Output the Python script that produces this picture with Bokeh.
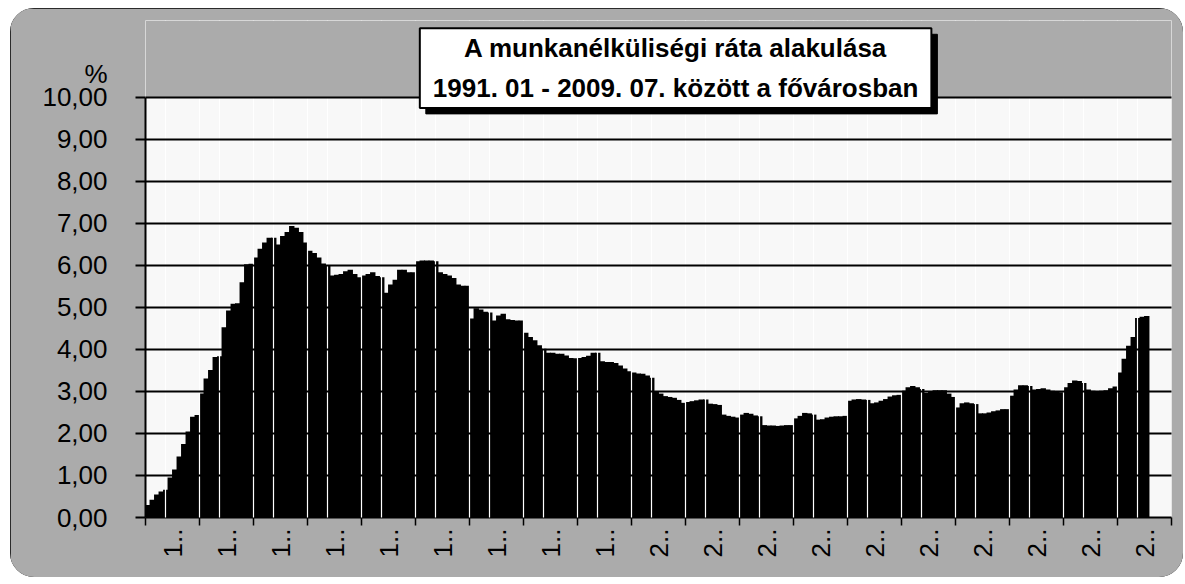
import math
from bokeh.plotting import figure
from bokeh.models import Range1d, FixedTicker, Label, Grid, BoxAnnotation
from bokeh.embed import file_html
from bokeh.resources import INLINE

# ---------------- data ----------------
years = [str(y) for y in range(1991, 2010)]
xtick_labels = ["1.."] * 9 + ["2.."] * 10
ytick_values = [0, 1, 2, 3, 4, 5, 6, 7, 8, 9, 10]
ytick_labels = ["0,00", "1,00", "2,00", "3,00", "4,00", "5,00",
                "6,00", "7,00", "8,00", "9,00", "10,00"]

rate_1991 = [0.30, 0.42, 0.55, 0.62, 0.66, 0.95, 1.14, 1.45, 1.75, 2.05, 2.40, 2.44]
rate_1992 = [2.95, 3.31, 3.51, 3.82, 3.84, 4.53, 4.93, 5.09, 5.10, 5.60, 6.03, 6.04]
rate_1993 = [6.19, 6.40, 6.55, 6.66, 6.66, 6.50, 6.70, 6.80, 6.94, 6.90, 6.80, 6.55]
rate_1994 = [6.35, 6.30, 6.19, 6.05, 6.00, 5.76, 5.78, 5.80, 5.86, 5.90, 5.80, 5.72]
rate_1995 = [5.76, 5.80, 5.84, 5.75, 5.72, 5.35, 5.55, 5.66, 5.90, 5.90, 5.84, 5.84]
rate_1996 = [6.10, 6.12, 6.12, 6.12, 6.10, 5.84, 5.80, 5.76, 5.70, 5.55, 5.52, 5.52]
rate_1997 = [4.74, 4.98, 4.95, 4.90, 4.88, 4.69, 4.81, 4.85, 4.72, 4.70, 4.69, 4.69]
rate_1998 = [4.40, 4.30, 4.22, 4.10, 4.02, 3.92, 3.92, 3.90, 3.90, 3.86, 3.80, 3.79]
rate_1999 = [3.80, 3.82, 3.85, 3.92, 3.92, 3.72, 3.70, 3.70, 3.68, 3.62, 3.55, 3.48]
rate_2000 = [3.45, 3.43, 3.42, 3.38, 3.33, 3.01, 2.95, 2.89, 2.87, 2.85, 2.80, 2.73]
rate_2001 = [2.75, 2.77, 2.79, 2.81, 2.81, 2.71, 2.70, 2.68, 2.45, 2.42, 2.40, 2.38]
rate_2002 = [2.45, 2.49, 2.47, 2.43, 2.41, 2.20, 2.19, 2.19, 2.18, 2.19, 2.20, 2.20]
rate_2003 = [2.36, 2.42, 2.49, 2.48, 2.45, 2.33, 2.34, 2.38, 2.40, 2.41, 2.41, 2.42]
rate_2004 = [2.78, 2.81, 2.82, 2.81, 2.80, 2.72, 2.74, 2.78, 2.82, 2.88, 2.91, 2.92]
rate_2005 = [3.02, 3.10, 3.13, 3.10, 3.06, 2.97, 3.00, 3.03, 3.03, 3.03, 2.95, 2.87]
rate_2006 = [2.62, 2.72, 2.74, 2.72, 2.70, 2.48, 2.48, 2.50, 2.53, 2.55, 2.58, 2.58]
rate_2007 = [2.90, 3.05, 3.15, 3.15, 3.13, 3.05, 3.06, 3.08, 3.05, 3.02, 3.00, 2.98]
rate_2008 = [3.10, 3.20, 3.26, 3.25, 3.20, 3.05, 3.02, 3.00, 3.02, 3.03, 3.08, 3.12]
rate_2009 = [3.45, 3.78, 4.09, 4.30, 4.75, 4.78, 4.80]

title_line1 = "A munkanélküliségi ráta alakulása"
title_line2 = "1991. 01 - 2009. 07. között a fővárosban"
unit_label = "%"

rate = (rate_1991 + rate_1992 + rate_1993 + rate_1994 + rate_1995 + rate_1996 +
        rate_1997 + rate_1998 + rate_1999 + rate_2000 + rate_2001 + rate_2002 +
        rate_2003 + rate_2004 + rate_2005 + rate_2006 + rate_2007 + rate_2008 +
        rate_2009)
months_per_year = 12
n_slots = months_per_year * len(years)          # axis runs through 2009 december
month_x = [i + 0.5 for i in range(len(rate))]

# ---------------- figure ----------------
FONT = "Liberation Sans"
GRAY = "#ababab"
Y_MAX = 10
Y_TOP = 11.833      # frame extends above the value axis to hold the title box

p = figure(width=1173, height=569, output_backend="svg", toolbar_location=None,
           x_range=Range1d(0, n_slots), y_range=Range1d(0, Y_TOP),
           min_border_left=135, min_border_right=12, min_border_top=12,
           min_border_bottom=60,
           background_fill_color="#f8f8f8", border_fill_color=GRAY,
           outline_line_color=None)
p.styles = {"border-radius": "24px", "overflow": "hidden",
            "outline": "2px solid black", "outline-offset": "-2px",
            "margin-left": "10px", "margin-top": "8px"}

p.vbar(x=month_x, top=rate, bottom=0, width=1.2, fill_color="black",
       line_color=None)

p.xgrid.visible = False
p.ygrid.visible = False

# y axis: tick marks drawn as minor ticks so the "%" label gets no tick mark
unit_pos = 10.57
y_overrides = {v: s for v, s in zip(ytick_values, ytick_labels)}
y_overrides[unit_pos] = unit_label
yax = p.yaxis[0]
yax.ticker = FixedTicker(ticks=ytick_values + [unit_pos], minor_ticks=ytick_values)
yax.major_label_overrides = y_overrides
yax.bounds = (0, Y_MAX)
yax.major_tick_out = 0
yax.major_tick_in = 0
yax.minor_tick_out = 10
yax.minor_tick_in = 0
yax.minor_tick_line_width = 2
yax.minor_tick_line_color = "black"
yax.axis_line_width = 2
yax.axis_line_color = "black"
yax.major_label_text_font = FONT
yax.major_label_text_font_size = "26px"
yax.major_label_text_color = "black"
yax.major_label_standoff = 28

xax = p.xaxis[0]
label_pos = [months_per_year * k + months_per_year / 2 for k in range(len(years))]
year_edges = [months_per_year * k for k in range(len(years) + 1)]
xax.ticker = FixedTicker(ticks=label_pos, minor_ticks=year_edges)
xax.major_label_overrides = {v: s for v, s in zip(label_pos, xtick_labels)}
xax.major_tick_out = 0
xax.major_tick_in = 0
xax.minor_tick_out = 8
xax.minor_tick_in = 0
xax.minor_tick_line_width = 1.5
xax.minor_tick_line_color = "black"
xax.axis_line_width = 2
xax.axis_line_color = "black"
xax.major_label_orientation = math.pi / 2
xax.major_label_text_font = FONT
xax.major_label_text_font_size = "26px"
xax.major_label_text_color = "black"
xax.major_label_standoff = 3

# white seams between the bar groups (as in the scanned original)
seams = sorted(year_edges[1:-1] + [e + 4.5 for e in year_edges[:-1]])
p.add_layout(Grid(dimension=0, ticker=FixedTicker(ticks=seams),
                  grid_line_color="white", grid_line_width=1.2, level="guide"))

# gray chart-area band above the value range
p.add_layout(BoxAnnotation(bottom=Y_MAX, fill_color=GRAY, fill_alpha=1.0,
                           line_color=None, level="annotation"))

# horizontal black gridlines
p.add_layout(Grid(dimension=1, ticker=FixedTicker(ticks=ytick_values[1:]),
                  grid_line_color="black", grid_line_width=1.8,
                  level="annotation"))

# title box with drop shadow
title_text = title_line1 + "\n" + title_line2
common = dict(x=117.8, y=10.70, text=title_text, text_align="center",
              text_baseline="middle", text_font=FONT,
              text_font_style="bold", text_font_size="26px",
              text_line_height=1.32,
              padding=dict(left=13, right=13, top=5, bottom=5),
              level="overlay")
p.add_layout(Label(x_offset=6, y_offset=-6, text_color="black",
                   background_fill_color="black", border_line_color="black",
                   **common))
p.add_layout(Label(text_color="black", background_fill_color="white",
                   border_line_color="black", border_line_width=2, **common))

open("out.html", "w").write(file_html(p, INLINE))
